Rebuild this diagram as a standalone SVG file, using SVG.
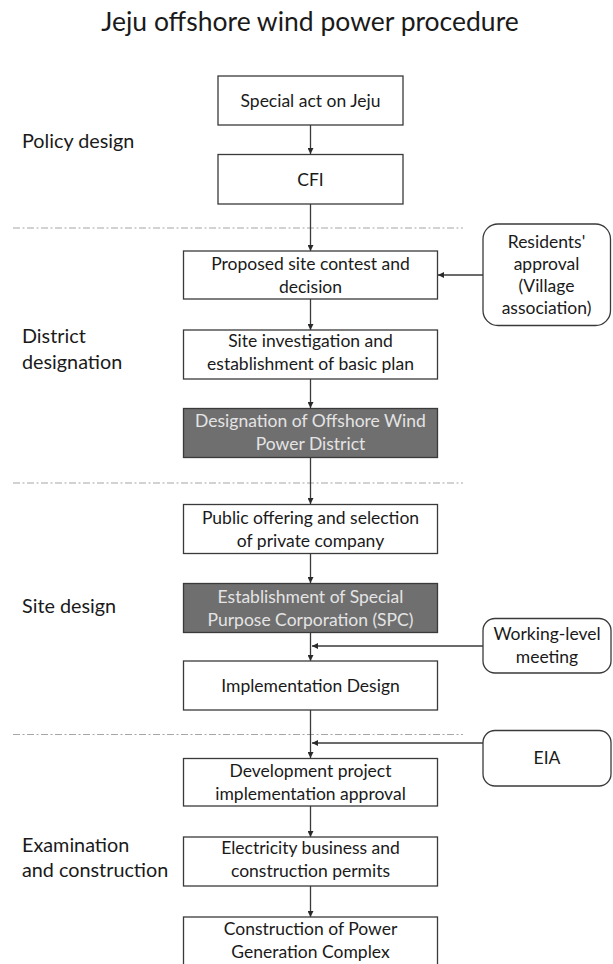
<svg xmlns="http://www.w3.org/2000/svg" width="613" height="964" viewBox="0 0 613 964">
<defs>
<style>
text{font-family:Lato,"Open Sans","Liberation Sans",sans-serif;fill:#1a1a1a}
.t{font-size:17.5px;text-anchor:middle}
.dt{font-size:17.5px;text-anchor:middle;fill:#e4e4e4}
.lbl{font-size:19.8px}
.box{fill:#fff;stroke:#3a3a3a;stroke-width:1.3}
.dark{fill:#6f6f6f;stroke:#3a3a3a;stroke-width:1.3}
.rnd{fill:#fff;stroke:#3a3a3a;stroke-width:1.3}
.sep{stroke:#a6a6a6;stroke-width:1.2;stroke-dasharray:7 2.5 2 2.5;fill:none}
.c{stroke:#3a3a3a;stroke-width:1.3;fill:none}
</style>
<marker id="ah" viewBox="0 0 10 10" refX="10" refY="5" markerWidth="6" markerHeight="6" orient="auto" markerUnits="userSpaceOnUse">
<path d="M0,0 L10,5 L0,10 z" fill="#2a2a2a"/>
</marker>
</defs>
<rect width="613" height="964" fill="#fff"/>
<text x="310" y="31" font-size="26.5" text-anchor="middle">Jeju offshore wind power procedure</text>

<g id="phases">
<text class="lbl" x="22" y="148">Policy design</text>
<text class="lbl" x="22" y="343">District</text>
<text class="lbl" x="22" y="369">designation</text>
<text class="lbl" x="22" y="613">Site design</text>
<text class="lbl" x="22" y="852">Examination</text>
<text class="lbl" x="22" y="877">and construction</text>
</g>

<g id="separators">
<line class="sep" x1="13" y1="228" x2="463" y2="228"/>
<line class="sep" x1="13" y1="483" x2="463" y2="483"/>
<line class="sep" x1="13" y1="734.5" x2="463" y2="734.5"/>
</g>

<g id="connectors">
<line class="c" x1="310.5" y1="125" x2="310.5" y2="154" marker-end="url(#ah)"/>
<line class="c" x1="310.5" y1="204" x2="310.5" y2="251" marker-end="url(#ah)"/>
<line class="c" x1="310.5" y1="299" x2="310.5" y2="330" marker-end="url(#ah)"/>
<line class="c" x1="310.5" y1="379" x2="310.5" y2="408" marker-end="url(#ah)"/>
<line class="c" x1="310.5" y1="458" x2="310.5" y2="504" marker-end="url(#ah)"/>
<line class="c" x1="310.5" y1="553" x2="310.5" y2="583" marker-end="url(#ah)"/>
<line class="c" x1="310.5" y1="633" x2="310.5" y2="661" marker-end="url(#ah)"/>
<line class="c" x1="310.5" y1="710" x2="310.5" y2="758" marker-end="url(#ah)"/>
<line class="c" x1="310.5" y1="806" x2="310.5" y2="837" marker-end="url(#ah)"/>
<line class="c" x1="310.5" y1="886" x2="310.5" y2="917" marker-end="url(#ah)"/>
<line class="c" x1="483" y1="275" x2="438" y2="275" marker-end="url(#ah)"/>
<line class="c" x1="483" y1="646" x2="312" y2="646" marker-end="url(#ah)"/>
<line class="c" x1="483" y1="743" x2="312" y2="743" marker-end="url(#ah)"/>
</g>

<g id="n-special-act">
<rect class="box" x="218" y="76" width="185" height="49"/>
<text class="t" x="310.5" y="107">Special act on Jeju</text>
</g>
<g id="n-cfi">
<rect class="box" x="218" y="154.5" width="185" height="49.5"/>
<text class="t" x="310.5" y="186">CFI</text>
</g>
<g id="n-proposed-site">
<rect class="box" x="183.5" y="251" width="254" height="48"/>
<text class="t" x="310.5" y="270">Proposed site contest and</text>
<text class="t" x="310.5" y="293">decision</text>
</g>
<g id="n-site-investigation">
<rect class="box" x="183.5" y="330" width="254" height="49"/>
<text class="t" x="310.5" y="347">Site investigation and</text>
<text class="t" x="310.5" y="370">establishment of basic plan</text>
</g>
<g id="n-designation">
<rect class="dark" x="183.5" y="408.5" width="254" height="49"/>
<text class="dt" x="310.5" y="427">Designation of Offshore Wind</text>
<text class="dt" x="310.5" y="450">Power District</text>
</g>
<g id="n-public-offering">
<rect class="box" x="183.5" y="504.5" width="254" height="49"/>
<text class="t" x="310.5" y="523.5">Public offering and selection</text>
<text class="t" x="310.5" y="547">of private company</text>
</g>
<g id="n-spc">
<rect class="dark" x="183.5" y="583.5" width="254" height="49"/>
<text class="dt" x="310.5" y="603">Establishment of Special</text>
<text class="dt" x="310.5" y="626">Purpose Corporation (SPC)</text>
</g>
<g id="n-implementation-design">
<rect class="box" x="183.5" y="661" width="254" height="49"/>
<text class="t" x="310.5" y="691.5">Implementation Design</text>
</g>
<g id="n-development-approval">
<rect class="box" x="183.5" y="758.5" width="254" height="47.5"/>
<text class="t" x="310.5" y="777">Development project</text>
<text class="t" x="310.5" y="800">implementation approval</text>
</g>
<g id="n-electricity-permits">
<rect class="box" x="183.5" y="837" width="254" height="49"/>
<text class="t" x="310.5" y="854">Electricity business and</text>
<text class="t" x="310.5" y="877">construction permits</text>
</g>
<g id="n-construction">
<rect class="box" x="183.5" y="917" width="254" height="60"/>
<text class="t" x="310.5" y="935">Construction of Power</text>
<text class="t" x="310.5" y="958">Generation Complex</text>
</g>

<g id="n-residents">
<rect class="rnd" x="483" y="224" width="127.5" height="101.5" rx="15"/>
<text class="t" x="546.5" y="248">Residents'</text>
<text class="t" x="546.5" y="270">approval</text>
<text class="t" x="546.5" y="292">(Village</text>
<text class="t" x="546.5" y="314">association)</text>
</g>
<g id="n-working-level">
<rect class="rnd" x="483" y="618.5" width="128" height="54.5" rx="12"/>
<text class="t" x="547" y="640">Working-level</text>
<text class="t" x="547" y="663">meeting</text>
</g>
<g id="n-eia">
<rect class="rnd" x="483" y="730.5" width="128" height="55.5" rx="12"/>
<text class="t" x="547" y="763.5">EIA</text>
</g>
</svg>
